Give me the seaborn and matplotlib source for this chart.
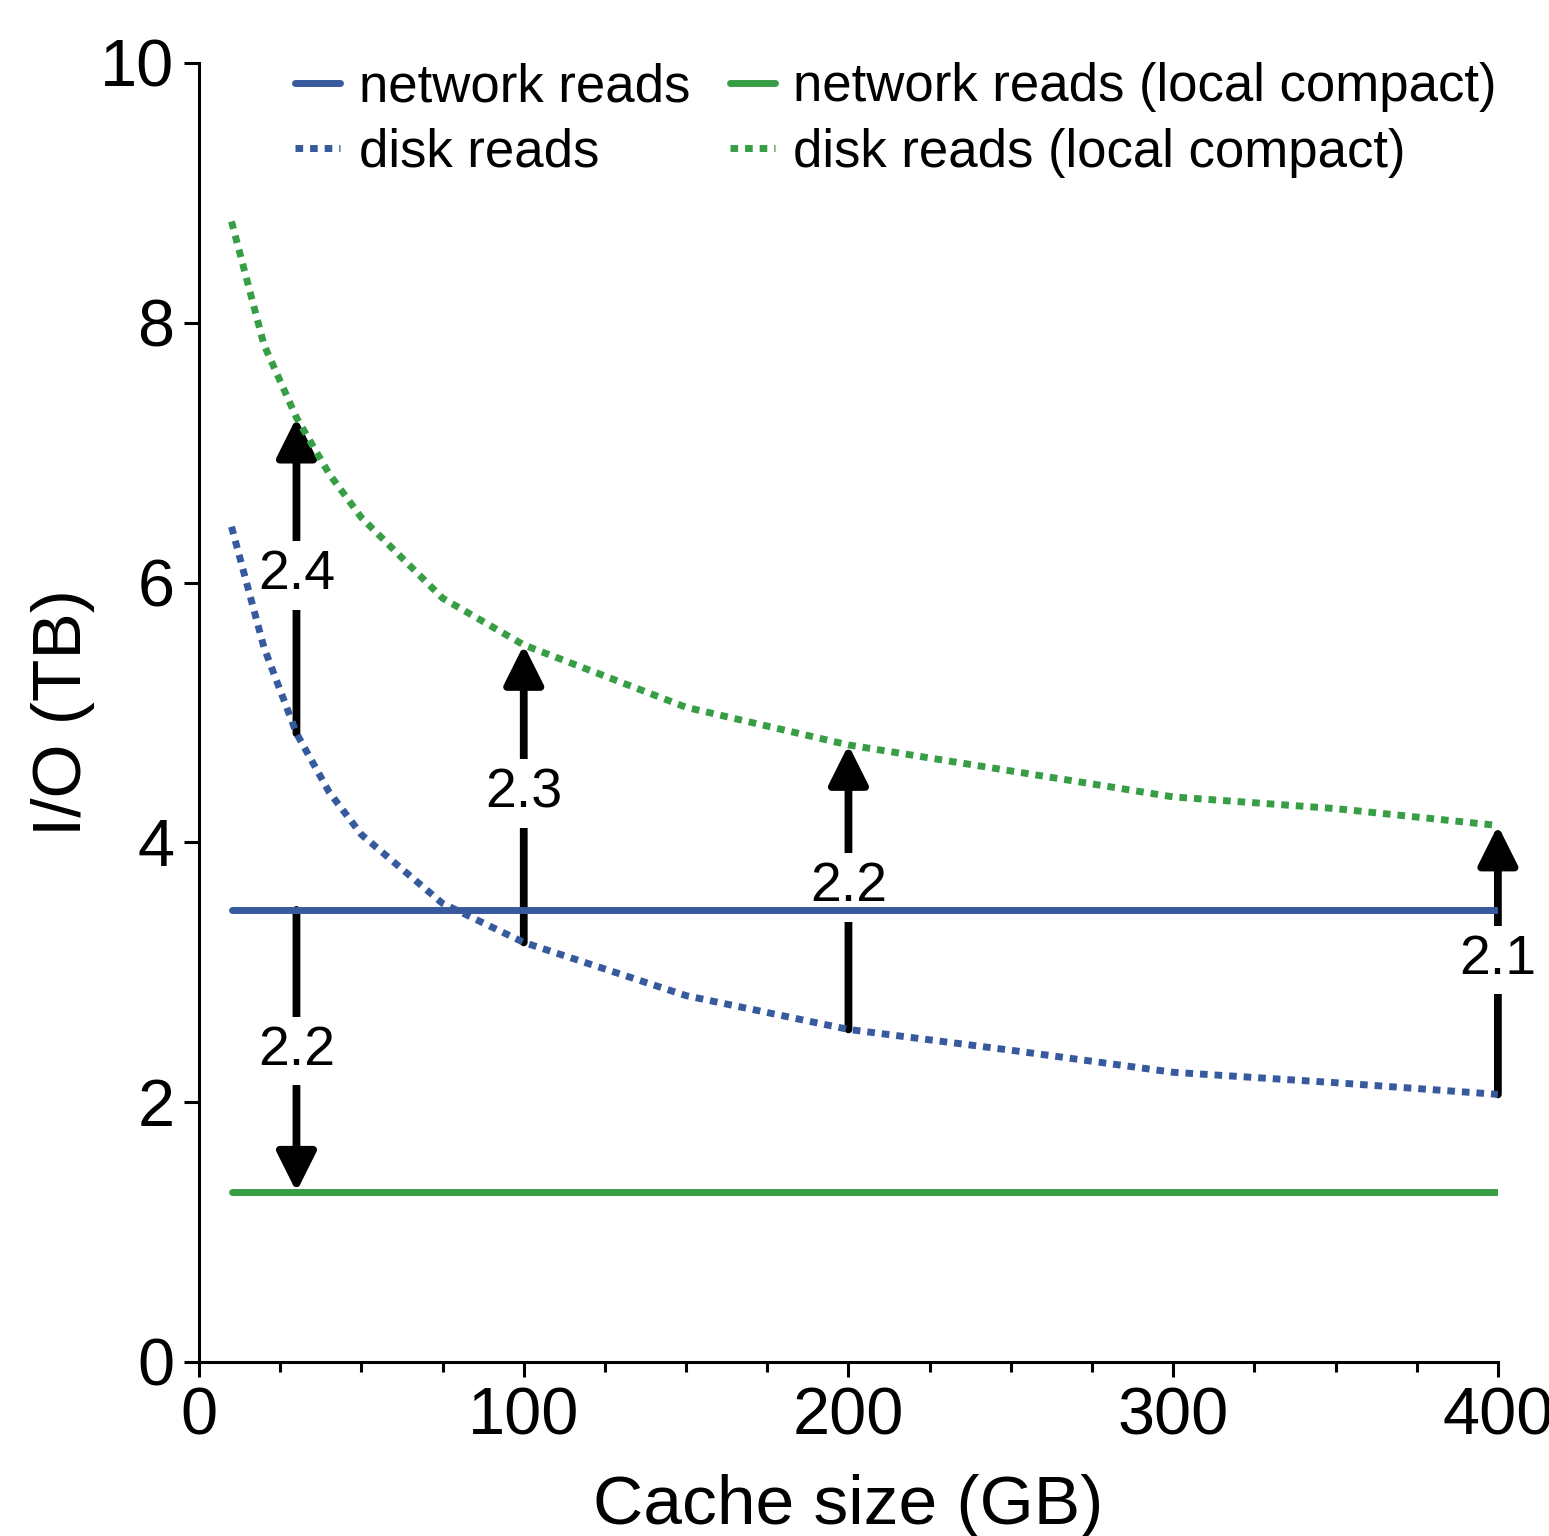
import matplotlib
matplotlib.use("Agg")
import matplotlib.pyplot as plt
import seaborn as sns
import pandas as pd

# values (TB)
cache_gb = [10, 20, 30, 40, 50, 75, 100, 150, 200, 250, 300, 350, 400]
disk_reads = [6.43, 5.50, 4.84, 4.39, 4.06, 3.53, 3.23, 2.82, 2.56, 2.40, 2.23, 2.15, 2.06]
disk_reads_local = [8.78, 7.83, 7.27, 6.84, 6.50, 5.88, 5.52, 5.04, 4.75, 4.55, 4.35, 4.26, 4.13]

net_x = [10, 400]
net_reads = [3.48, 3.48]
net_reads_local = [1.31, 1.31]

# difference arrows: (x, label)
gap_x = [30, 100, 200, 400]
gap_labels = ["2.4", "2.3", "2.2", "2.1"]
net_gap_x = 30
net_gap_label = "2.2"

blue = "#375a9e"
green = "#389e46"

sns.set_style("ticks")
plt.rcParams["font.family"] = ["Liberation Sans", "DejaVu Sans"]
plt.rcParams["text.color"] = "black"
plt.rcParams["axes.labelcolor"] = "black"
plt.rcParams["xtick.color"] = "black"
plt.rcParams["ytick.color"] = "black"

fig = plt.figure(figsize=(7.745, 7.68), dpi=200)
ax = fig.add_axes([0.1285, 0.1133, 0.8385, 0.8457])

lw = 2.5
dots = (1.1, 1.0)

net_df = pd.DataFrame({"x": net_x, "net": net_reads, "net_local": net_reads_local})
disk_df = pd.DataFrame({"x": cache_gb, "disk": disk_reads, "disk_local": disk_reads_local})

sns.lineplot(data=net_df, x="x", y="net", color=blue, lw=lw, label="network reads", ax=ax, zorder=3)
sns.lineplot(data=disk_df, x="x", y="disk", color=blue, lw=lw, label="disk reads", ax=ax, zorder=3)
ax.lines[-1].set_dashes(dots)
sns.lineplot(data=net_df, x="x", y="net_local", color=green, lw=lw,
             label="network reads (local compact)", ax=ax, zorder=3)
sns.lineplot(data=disk_df, x="x", y="disk_local", color=green, lw=lw,
             label="disk reads (local compact)", ax=ax, zorder=3)
ax.lines[-1].set_dashes(dots)

arrow_kw = dict(arrowstyle="-|>", color="black", lw=2.8, mutation_scale=30,
                shrinkA=0, shrinkB=0)
text_kw = dict(ha="center", va="center", fontsize=20, zorder=2, color="black",
               bbox=dict(boxstyle="square,pad=0.15", fc="white", ec="none"))

lo = dict(zip(cache_gb, disk_reads))
hi = dict(zip(cache_gb, disk_reads_local))
for x, lab in zip(gap_x, gap_labels):
    ax.annotate("", xy=(x, hi[x]), xytext=(x, lo[x]), arrowprops=arrow_kw,
                zorder=1, annotation_clip=False)
    ax.text(x, (lo[x] + hi[x]) / 2, lab, **text_kw)

ax.annotate("", xy=(net_gap_x, net_reads_local[0]), xytext=(net_gap_x, net_reads[0]),
            arrowprops=arrow_kw, zorder=1)
ax.text(net_gap_x, (net_reads[0] + net_reads_local[0]) / 2, net_gap_label, **text_kw)

ax.set_xlim(0, 400)
ax.set_ylim(0, 10)
ax.set_xticks([0, 100, 200, 300, 400])
ax.set_xticks(range(0, 401, 25), minor=True)
ax.set_yticks([0, 2, 4, 6, 8, 10])
ax.tick_params(axis="both", which="major", labelsize=24, length=5.4, width=1.1, color="black")
ax.tick_params(axis="x", which="minor", length=3.6, width=1.1, color="black")
for s in ["left", "bottom"]:
    ax.spines[s].set_linewidth(1.1)
    ax.spines[s].set_color("black")
sns.despine(ax=ax)

ax.set_xlabel("Cache size (GB)", fontsize=25, labelpad=9)
ax.set_ylabel("I/O (TB)", fontsize=25, labelpad=2)

ax.legend(ncol=2, frameon=False, fontsize=19, loc="upper left",
          bbox_to_anchor=(0.058, 1.017), handlelength=0.85, handletextpad=0.35,
          columnspacing=0.75, labelspacing=0.3, borderaxespad=0)

fig.savefig("out.png", dpi=200)
